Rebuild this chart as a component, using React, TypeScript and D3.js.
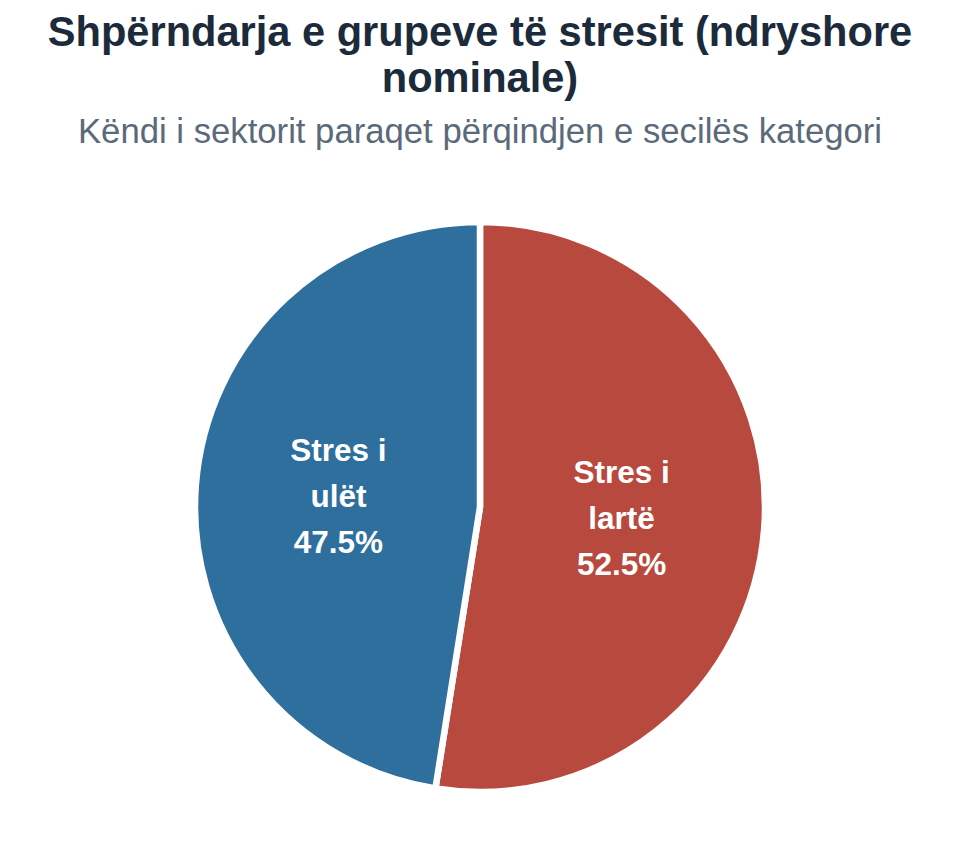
import * as d3 from 'd3';

const CATEGORIES = ['Stres i lartë', 'Stres i ulët'];
const SHARES = [52.5, 47.5];
const LABEL_LINES = [['Stres i', 'lartë'], ['Stres i', 'ulët']];
const COLORS = ['#b8493e', '#2e6f9e'];

const W = 960;
const H = 864;
const CX = 480;
const CY = 507;
const R = 285;

export default function App() {
  const pie = d3
    .pie<number>()
    .sort(null)
    .value((d) => d);
  const arcs = pie(SHARES);
  const arc = d3.arc<d3.PieArcDatum<number>>().innerRadius(0).outerRadius(R);
  const labelArc = d3
    .arc<d3.PieArcDatum<number>>()
    .innerRadius(142)
    .outerRadius(142);

  return (
    <svg
      width={W}
      height={H}
      viewBox={`0 0 ${W} ${H}`}
      style={{ position: 'absolute', left: 0, top: 0, background: '#fff' }}
      fontFamily="'Liberation Sans', Arial, sans-serif"
    >
      <text textAnchor="middle" fontWeight="bold" fontSize={41.6} fill="#1b2b3b">
        <tspan x={W / 2} y={46}>Shpërndarja e grupeve të stresit (ndryshore</tspan>
        <tspan x={W / 2} y={92}>nominale)</tspan>
      </text>
      <text x={W / 2} y={143} textAnchor="middle" fontSize={34.7} fill="#5a6a7a">
        Këndi i sektorit paraqet përqindjen e secilës kategori
      </text>

      <g transform={`translate(${CX},${CY})`}>
        {arcs.map((a, i) => (
          <path
            key={CATEGORIES[i]}
            d={arc(a) ?? ''}
            fill={COLORS[i]}
            stroke="#fff"
            strokeWidth={6.5}
            strokeLinejoin="round"
          />
        ))}
        {arcs.map((a, i) => {
          const [x, y] = labelArc.centroid(a);
          const lines = [...LABEL_LINES[i], `${SHARES[i].toFixed(1)}%`];
          return (
            <text
              key={`lbl-${i}`}
              textAnchor="middle"
              fontWeight="bold"
              fontSize={31.5}
              fill="#fff"
            >
              {lines.map((l, j) => (
                <tspan key={j} x={x} y={y + (j - 1) * 46 + 11}>
                  {l}
                </tspan>
              ))}
            </text>
          );
        })}
      </g>
    </svg>
  );
}
